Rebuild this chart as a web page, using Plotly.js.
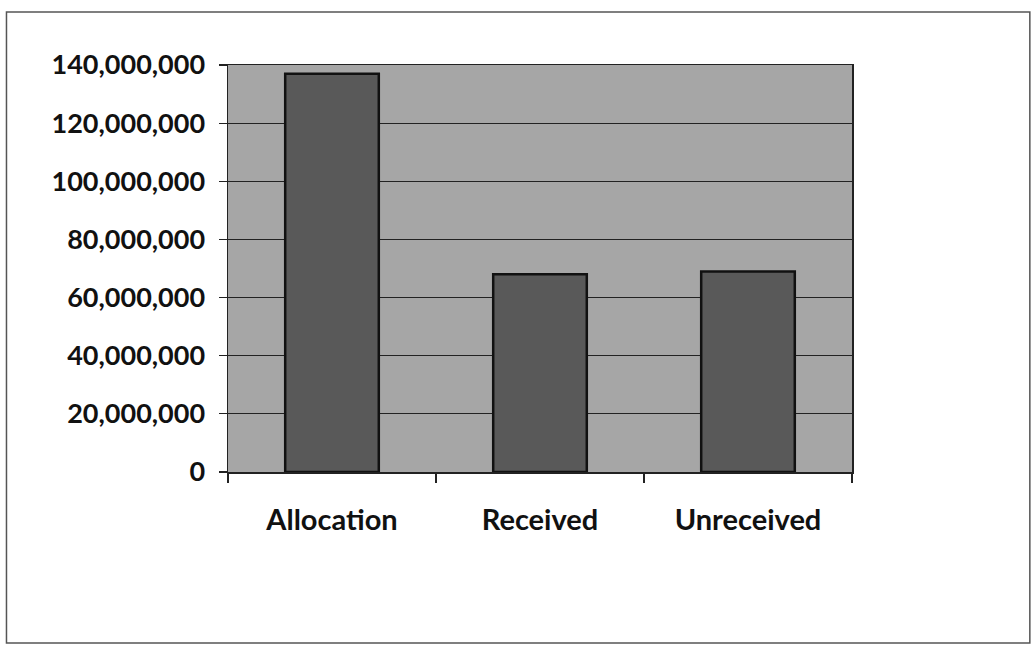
<!DOCTYPE html>
<html>
<head>
<meta charset="utf-8">
<script src="https://cdn.plot.ly/plotly-3.0.1.min.js"></script>
<style>
html,body{margin:0;padding:0;background:#fff;}
#chart{width:1033px;height:650px;}
</style>
</head>
<body>
<div id="chart"></div>
<script>
const categories = ["Allocation", "Received", "Unreceived"];
const values = [137000000, 68000000, 69000000];
const yTickVals = [0, 20000000, 40000000, 60000000, 80000000, 100000000, 120000000, 140000000];
const yTickText = ["0", "20,000,000", "40,000,000", "60,000,000", "80,000,000", "100,000,000", "120,000,000", "140,000,000"];

const trace = {
  type: "bar",
  x: categories,
  y: values,
  marker: {color: "#595959", line: {color: "#111", width: 2.5}},
  hoverinfo: "none"
};

const layout = {
  width: 1033, height: 650,
  margin: {l: 228, r: 181, t: 65, b: 178},
  paper_bgcolor: "#ffffff",
  plot_bgcolor: "#a6a6a6",
  bargap: 0.55,
  showlegend: false,
  font: {family: "Lato, 'Open Sans', sans-serif", color: "#111"},
  xaxis: {
    type: "category",
    tickson: "boundaries",
    ticks: "outside", ticklen: 9, tickcolor: "#222", tickwidth: 1.2,
    showline: true, linecolor: "#222", linewidth: 1.5,
    mirror: true,
    tickfont: {size: 29, family: "Lato, sans-serif", weight: "bold", color: "#111"},
    ticklabelstandoff: 22,
    showgrid: false
  },
  yaxis: {
    range: [0, 140000000],
    tickvals: yTickVals, ticktext: yTickText,
    ticks: "outside", ticklen: 8, tickcolor: "#222", tickwidth: 1.2,
    showline: true, linecolor: "#222", linewidth: 1.5,
    mirror: true,
    gridcolor: "#222", gridwidth: 1.2,
    zeroline: false,
    tickfont: {size: 27, family: "Lato, sans-serif", weight: "bold", color: "#111"},
    ticklabelstandoff: 8
  },
  shapes: [{
    type: "rect", xref: "paper", yref: "paper",
    x0: -0.355, x1: 1.285, y0: -0.42, y1: 1.13,
    line: {color: "#555", width: 1.5}, fillcolor: "rgba(0,0,0,0)"
  }]
};

Plotly.newPlot("chart", [trace], layout, {displayModeBar: false, staticPlot: true});
</script>
</body>
</html>
